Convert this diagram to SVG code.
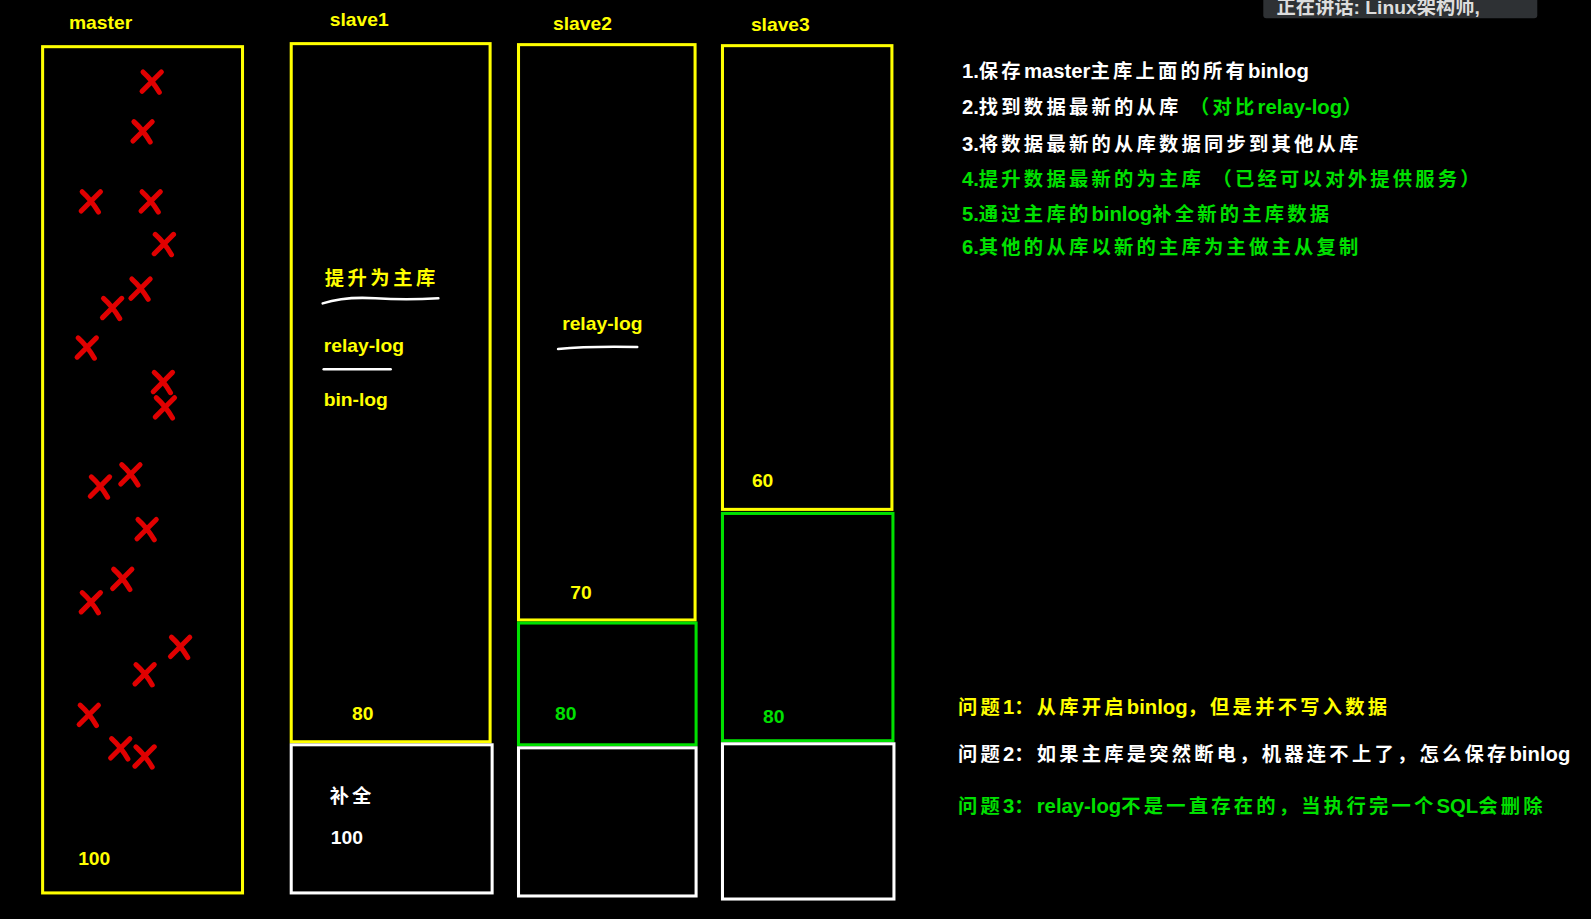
<svg xmlns="http://www.w3.org/2000/svg" width="1591" height="919" viewBox="0 0 1591 919">
<style>
text{font-family:"Liberation Sans","Noto Sans CJK SC",sans-serif;font-weight:bold;font-size:19px}
.y{fill:#ffff00}.g{fill:#00e000}.w{fill:#ffffff}
.n text{letter-spacing:3.2px}
.n .l{letter-spacing:0;font-size:20px}
.by{fill:none;stroke:#ffff00;stroke-width:3}
.bg{fill:none;stroke:#00e000;stroke-width:3}
.bw{fill:none;stroke:#ffffff;stroke-width:3}
.ul{fill:none;stroke:#ffffff;stroke-width:2.5;stroke-linecap:round}
</style>
<defs>
<g id="x"><path d="M-9,-10 Q0,-2 7,10 M9,-10 Q-1,0 -10,9" fill="none" stroke="#e00000" stroke-width="5" stroke-linecap="round"/></g>
</defs>
<rect width="1591" height="919" fill="#000"/>
<g transform="scale(1.0147)">
<g id="overlay"><rect x="1245" y="-6" width="270" height="24" rx="3" fill="#2e3134"/><text x="1258" y="14" font-size="9" font-weight="normal" fill="#ddd">正在讲话: Linux架构师,</text></g>
<g id="master"><text class="y" x="68" y="29">master</text><rect class="by" x="42" y="46" width="197" height="834"/><text class="y" x="77" y="852">100</text>
<use href="#x" x="150" y="81"/><use href="#x" x="141" y="130"/><use href="#x" x="90" y="199"/><use href="#x" x="149" y="199"/><use href="#x" x="162" y="241"/><use href="#x" x="139" y="285"/><use href="#x" x="111" y="304"/><use href="#x" x="86" y="343"/><use href="#x" x="161" y="377"/><use href="#x" x="163" y="402"/><use href="#x" x="99" y="480"/><use href="#x" x="129" y="468"/><use href="#x" x="145" y="522"/><use href="#x" x="121" y="571"/><use href="#x" x="90" y="594"/><use href="#x" x="178" y="638"/><use href="#x" x="143" y="665"/><use href="#x" x="88" y="705"/><use href="#x" x="119" y="738"/><use href="#x" x="143" y="746"/>
</g>
<g id="slave1"><text class="y" x="325" y="26">slave1</text><rect class="by" x="287" y="43" width="196" height="688"/>
<text class="y" x="320" y="281" font-weight="normal" letter-spacing="3.5">提升为主库</text><path class="ul" d="M318,299 Q340,292 370,294 T432,294"/>
<text class="y" x="319" y="347">relay-log</text><path class="ul" d="M319,364 L385,364"/>
<text class="y" x="319" y="400">bin-log</text><text class="y" x="347" y="710">80</text>
<rect class="bw" x="287" y="734" width="198" height="146"/><text class="w" x="325" y="791" font-weight="normal" letter-spacing="3">补全</text><text class="w" x="326" y="832">100</text></g>
<g id="slave2"><text class="y" x="545" y="30">slave2</text><rect class="by" x="511" y="44" width="174" height="567"/>
<text class="y" x="554" y="325">relay-log</text><path class="ul" d="M550,344 Q580,341 628,342"/><text class="y" x="562" y="590">70</text>
<rect class="bg" x="511" y="614" width="175" height="120"/><text class="g" x="547" y="710">80</text>
<rect class="bw" x="511" y="737" width="175" height="146"/></g>
<g id="slave3"><text class="y" x="740" y="31">slave3</text><rect class="by" x="712" y="45" width="167" height="457"/><text class="y" x="741" y="480">60</text>
<rect class="bg" x="712" y="506" width="168" height="224"/><text class="g" x="752" y="713">80</text>
<rect class="bw" x="712" y="733" width="169" height="153"/></g>
<g id="notes" class="n">
<text class="w" x="948" y="77"><tspan class="l">1.</tspan>保存<tspan class="l">master</tspan>主库上面的所有<tspan class="l">binlog</tspan></text>
<text class="w" x="948" y="112"><tspan class="l">2.</tspan>找到数据最新的从库 <tspan class="g">（对比<tspan class="l">relay-log</tspan>）</tspan></text>
<text class="w" x="948" y="149"><tspan class="l">3.</tspan>将数据最新的从库数据同步到其他从库</text>
<text class="g" x="948" y="183"><tspan class="l">4.</tspan>提升数据最新的为主库 （已经可以对外提供服务）</text>
<text class="g" x="948" y="218"><tspan class="l">5.</tspan>通过主库的<tspan class="l">binlog</tspan>补全新的主库数据</text>
<text class="g" x="948" y="250"><tspan class="l">6.</tspan>其他的从库以新的主库为主做主从复制</text>
<text class="y" x="944" y="704">问题<tspan class="l">1</tspan>：从库开启<tspan class="l">binlog</tspan>，但是并不写入数据</text>
<text class="w" x="944" y="750">问题<tspan class="l">2</tspan>：如果主库是突然断电，机器连不上了，怎么保存<tspan class="l">binlog</tspan></text>
<text class="g" x="944" y="801">问题<tspan class="l">3</tspan>：<tspan class="l">relay-log</tspan>不是一直存在的，当执行完一个<tspan class="l">SQL</tspan>会删除</text>
</g>
</g>
</svg>
